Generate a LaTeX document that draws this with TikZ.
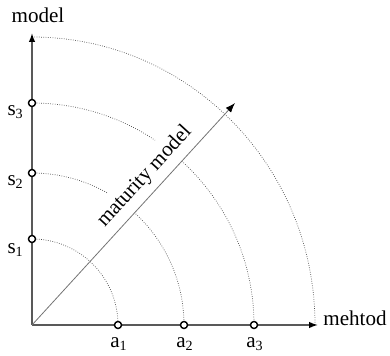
\documentclass[tikz,border=0pt]{standalone}
\usepackage{fontspec}
\setmainfont{Liberation Serif}
\usetikzlibrary{arrows.meta,calc}

\begin{document}
\begin{tikzpicture}[
    x=0.02cm, y=0.02cm,
    axis/.style={
        line width=0.8pt,
        draw=black!65,
        -{Latex[length=5pt,width=3.6pt,color=black]}
    },
    ring/.style={
        line width=0.4pt,
        draw=black!70,
        dash pattern=on 0.4pt off 0.9pt
    },
    level/.style={
        circle,
        draw=black,
        fill=white,
        line width=0.8pt,
        minimum size=4pt,
        inner sep=0pt
    },
    tag/.style={
        font=\fontsize{12}{14}\selectfont,
        inner sep=0pt
    }
]
\useasboundingbox (0,0) rectangle (390,356);

% axes end points
\coordinate (O)    at (32,31);
\coordinate (ytip) at (32,323);
\coordinate (xtip) at (318,31);
\coordinate (dtip) at (235,253);

% maturity rings (quarter arcs round the origin)
\draw[ring] (32,117) arc[start angle=90, end angle=0, radius=86];
\draw[ring] (32,183) arc[start angle=90, end angle=0, radius=152];
\draw[ring] (32,253) arc[start angle=90, end angle=0, radius=222];
\draw[ring] (32,319) arc[start angle=90, end angle=0, x radius=283, y radius=288];

% diagonal label, white box cuts the rings
\node[tag, fill=white, inner sep=4pt, anchor=south, rotate=47.56]
  (mm) at ($(O)!0.617!(dtip)$) {maturity model};

% axes and diagonal arrow
\draw[axis] (O) -- (ytip);
\draw[axis] (O) -- (xtip);
\draw[line width=0.45pt, draw=black!55,
      -{Latex[length=5.5pt,width=4pt,color=black]}] (O) -- (dtip);

% axis names
\node[tag, anchor=base] (ylab) at (38,334) {model};
\node[tag, anchor=base west] (xlab) at (323,31) {mehtod};

% level points on the model axis
\node[level] (s1) at (32,117) {};
\node[level] (s2) at (32,183) {};
\node[level] (s3) at (32,253) {};

\node[tag, anchor=base east] (s1lab) at (24,103) {s\textsubscript{1}};
\node[tag, anchor=base east] (s2lab) at (24,171) {s\textsubscript{2}};
\node[tag, anchor=base east] (s3lab) at (24,241) {s\textsubscript{3}};

% level points on the method axis
\node[level] (a1) at (118,31) {};
\node[level] (a2) at (184,31) {};
\node[level] (a3) at (254,31) {};

\node[tag, anchor=base] (a1lab) at (119,9) {a\textsubscript{1}};
\node[tag, anchor=base] (a2lab) at (185,9) {a\textsubscript{2}};
\node[tag, anchor=base] (a3lab) at (255,9) {a\textsubscript{3}};

\end{tikzpicture}
\end{document}
